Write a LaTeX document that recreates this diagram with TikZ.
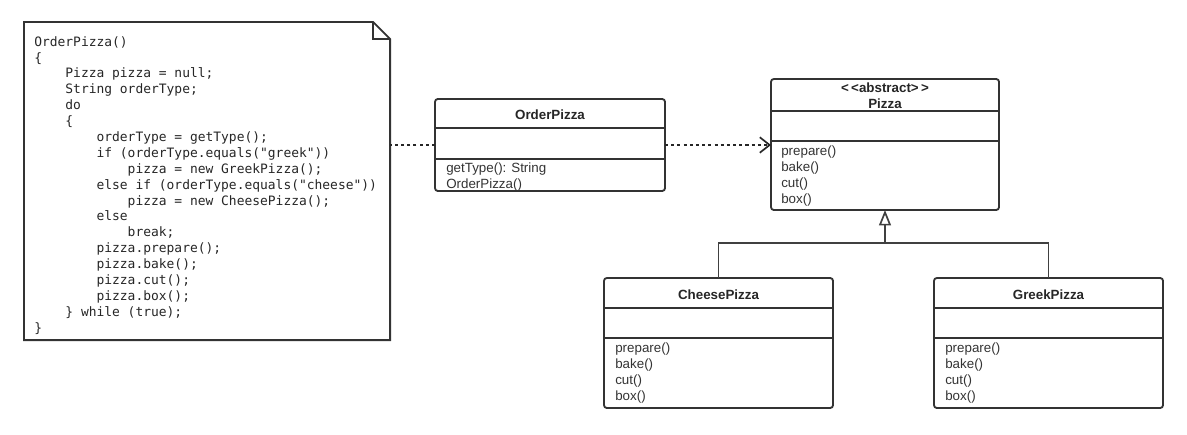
\documentclass[tikz,border=0pt]{standalone}
\usepackage{fontspec}
\setmainfont{Liberation Sans}
\newfontfamily\codefont{DejaVu Sans Mono}
\usetikzlibrary{arrows.meta,calc}
\def\umlclass(#1)(#2,#3)(#4,#5)(#6,#7){%
	\node[classbox, minimum width={(#4-#2)*0.025cm}, minimum height={(#5-#3)*0.025cm}, anchor=north west] (#1) at (#2,#3) {};
	\draw[classline] (#2,#6) -- (#4,#6);
	\draw[classline] (#2,#7) -- (#4,#7);}
\newcommand\tb{\hphantom{xxxx}}
\tikzset{
	classbox/.style={draw=black!80, line width=1.3pt, rounded corners=2pt, inner sep=0, outer sep=0},
	classline/.style={draw=black!80, line width=1.3pt},
	title/.style={font=\fontsize{9.5}{11.4}\selectfont\bfseries, text=black!85, align=center},
	methods/.style={font=\fontsize{9.5}{11.34}\selectfont, text=black!80, align=left, anchor=north west, inner sep=0},
	code/.style={font=\codefont\fontsize{9.2}{11.3}\selectfont, text=black!85, align=left, anchor=north west, inner sep=0},
	depend/.style={draw=black!85, line width=1.2pt, dash pattern=on 2.2pt off 2.2pt},
	inherit/.style={draw=black!75, line width=1.2pt},
}

\begin{document}
\begin{tikzpicture}[x=0.025cm, y=-0.025cm]
		\useasboundingbox (0,0) rectangle (1187,434);
		
		%%%%% note %%%%%
		\node[inner sep=0, outer sep=0, minimum width=9.15cm, minimum height=7.95cm, anchor=north west] (note) at (24,22) {};
		\draw[classline] (note.north west) -- ($(note.north east)+(-17,0)$) -- ($(note.north east)+(0,17)$) -- (note.south east) -- (note.south west) -- cycle;
		\draw[classline] ($(note.north east)+(-17,0)$) -- ($(note.north east)+(-17,17)$) -- ($(note.north east)+(0,17)$);
		\node[code] (code) at (34,36) {OrderPizza()\\
			\{\\
			\tb Pizza pizza = null;\\
			\tb String orderType;\\
			\tb do\\
			\tb \{\\
			\tb\tb orderType = getType();\\
			\tb\tb if (orderType.equals("greek"))\\
			\tb\tb\tb pizza = new GreekPizza();\\
			\tb\tb else if (orderType.equals("cheese"))\\
			\tb\tb\tb pizza = new CheesePizza();\\
			\tb\tb else\\
			\tb\tb\tb break;\\
			\tb\tb pizza.prepare();\\
			\tb\tb pizza.bake();\\
			\tb\tb pizza.cut();\\
			\tb\tb pizza.box();\\
			\tb \} while (true);\\
			\}};
		
		%%%%% classes %%%%%
		\umlclass(order)(435,99)(665,191)(128,159)
		\node[title] (ordertitle) at (550,115) {OrderPizza};
		\node[methods] (ordermethods) at (446,163) {getType(): String\\OrderPizza()};
		
		\umlclass(pizza)(771,79)(999,210)(111,141)
		\node[title] (pizzatitle) at (885,95.5) {<\,<abstract>\,>\\Pizza};
		\node[methods] (pizzamethods) at (781,146) {prepare()\\bake()\\cut()\\box()};
		
		\umlclass(cheese)(604,278)(833,408)(308,338)
		\node[title] (cheesetitle) at (718.5,295) {CheesePizza};
		\node[methods] (cheesemethods) at (615,343) {prepare()\\bake()\\cut()\\box()};
		
		\umlclass(greek)(934,278)(1163,408)(308,338)
		\node[title] (greektitle) at (1048.5,295) {GreekPizza};
		\node[methods] (greekmethods) at (945,343) {prepare()\\bake()\\cut()\\box()};
		
		%%%%% connectors %%%%%
		\draw[depend] (order.west) -- (order.west -| note.east);
		\draw[depend, -{Straight Barb[length=7pt, width=11pt]}] (order.east) -- (order.east -| pizza.west);
		
		\coordinate (join) at (885,243);
		\draw[inherit] (cheese.north) |- (join);
		\draw[inherit] (greek.north) |- (join);
		\draw[inherit, -{Triangle[open, length=11pt, width=8.5pt]}] (join) -- (pizza.south);
		
	\end{tikzpicture}
\end{document}
